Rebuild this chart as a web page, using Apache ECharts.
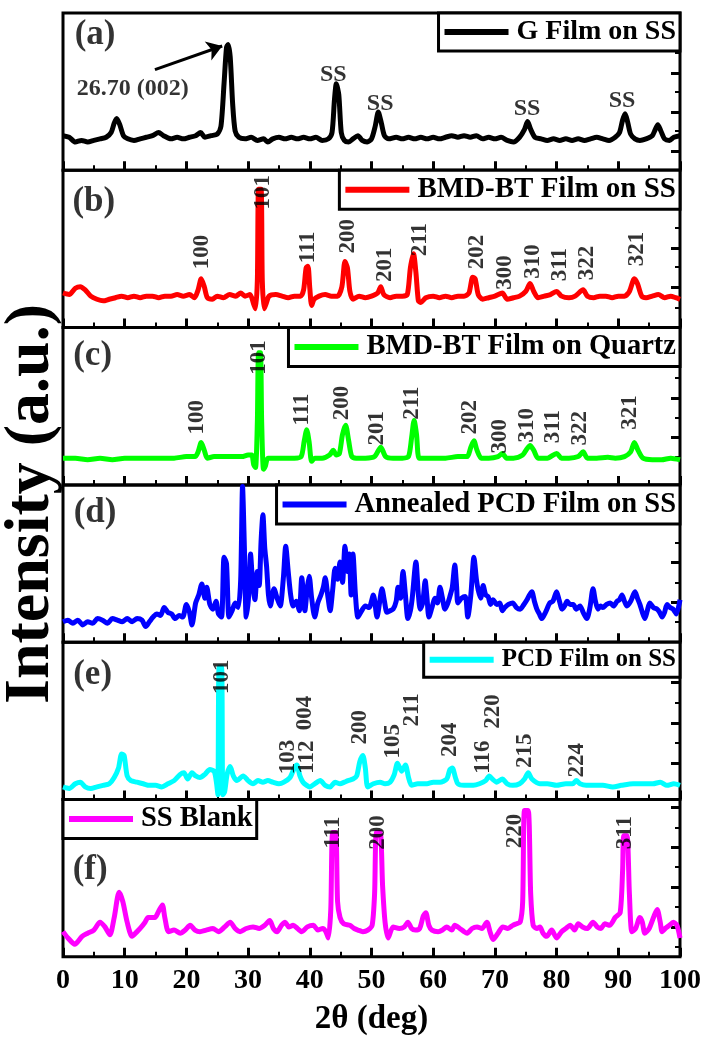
<!DOCTYPE html>
<html lang="en">
<head>
    <meta charset="UTF-8">
    <title>XRD patterns</title>
    <script src="https://cdn.jsdelivr.net/npm/echarts@6/dist/echarts.min.js"></script>
</head>
<style>
    body { margin: 0; background: #fff; }
    #container { width: 708px; height: 1038px; }
</style>
<body>
<div id="container"></div>
<script>
    // 2theta / intensity pairs (intensity in % of panel height)
    var gFilm = [[0,22],[1,21],[2,18],[3,19],[4,18],[5,19],[6,20],[7,21],[7.8,24],[8.3,30],[8.7,33],[9.2,29],[9.8,22],[10.5,20],[11.5,19],[12.5,20],[13.5,21],[14.5,22],[15.5,24],[16.3,22],[17.5,20],[18.5,21],[19.5,20],[20.5,21],[21.5,22],[22.3,24],[23,21],[24,22],[25,23],[25.6,28],[26.1,55],[26.5,78],[26.75,80],[27.1,72],[27.5,42],[27.9,25],[28.5,21],[29.5,20],[30.5,21],[31.5,19],[32.5,20],[33.2,18],[34,20],[35,21],[36,20],[37,21],[38,20],[39,21],[40,20],[41,21],[42,19],[43,20],[43.6,24],[44.0,45],[44.3,55],[44.7,48],[45.1,24],[45.6,19],[46.3,18],[47,20],[47.8,22],[48.5,19],[49.3,18],[50,20],[50.6,28],[51.1,37],[51.6,30],[52.1,22],[52.8,20],[54,21],[55,20],[56,21],[57,20],[58,21],[59,20],[60,21],[61,20],[62,21],[63,22],[64,21],[65,22],[66,21],[67,22],[68,20],[69,21],[70,20],[71,21],[72,19],[73,18],[74,21],[74.8,26],[75.3,31],[75.8,26],[76.5,21],[77.5,20],[78.5,19],[79.5,20],[80.5,19],[81.5,20],[82.5,19],[83.5,20],[84.5,19],[85.5,20],[86.5,21],[87.5,20],[88.5,19],[89.5,21],[90.2,24],[90.7,32],[91.1,36],[91.5,31],[92,23],[92.7,20],[93.5,19],[94.5,20],[95.5,22],[96,26],[96.4,29],[96.9,25],[97.5,20],[98.3,19],[99,21],[100,22]];

    var bmdSS = [[0,22],[1,21],[2,25],[2.8,26],[3.6,24],[4.5,20],[5.5,18],[6.5,17],[7.5,18],[8.5,19],[9.5,20],[10.5,19],[11.5,20],[12.5,19],[13.5,20],[14.5,20],[15.5,19],[16.5,20],[17.5,20],[18.5,21],[19.5,20],[20.5,21],[21.3,19],[21.9,24],[22.4,31],[22.9,26],[23.4,19],[24.2,18],[25,20],[26,19],[27,21],[28,20],[28.8,22],[29.5,20],[30.3,21],[30.9,15],[31.2,12],[31.5,30],[31.7,88],[32.1,88],[32.3,30],[32.6,12],[32.9,15],[33.4,20],[34.5,21],[35.5,20],[36.5,19],[37.5,20],[38.5,20],[39.0,24],[39.4,38],[39.7,39],[40.0,25],[40.3,14],[40.7,18],[41.5,20],[42.5,21],[43.5,20],[44.5,20],[45.2,26],[45.7,42],[46.1,38],[46.5,23],[47,18],[48,20],[49,19],[50,20],[51,22],[51.5,26],[52,21],[53,19],[54,20],[55,20],[55.8,21],[56.3,38],[56.8,47],[57.2,35],[57.6,17],[58,16],[58.8,19],[60,20],[61,19],[62,20],[63,19],[64,20],[65,20],[65.8,22],[66.4,32],[66.8,31],[67.3,21],[68,18],[69,19],[70,20],[71.2,22],[72,18],[73,19],[74,20],[75,23],[75.7,28],[76.3,23],[77,19],[78,20],[79,21],[80,23],[80.8,20],[82,19],[83,20],[84.3,24],[85,20],[86,19],[87,20],[88,20],[89,19],[90,20],[91,20],[91.8,23],[92.6,31],[93.1,28],[93.8,20],[94.5,19],[95.5,20],[96.5,21],[97.5,19],[98.5,20],[99.3,19],[100,18]];

    var bmdQuartz = [[0,17],[2,17],[4,16],[6,17],[8,16],[10,17],[12,17],[14,17],[16,17],[18,17],[20,18],[21.4,18],[21.9,21],[22.4,27],[22.9,22],[23.4,17],[24.5,18],[26,18],[27.5,18],[29,18],[30,19],[30.6,19],[30.9,13],[31.2,11],[31.5,40],[31.7,84],[32.0,84],[32.2,40],[32.5,10],[32.8,12],[33.2,17],[34.5,17],[36,17],[37.5,17],[38.6,18],[39.1,28],[39.5,35],[39.9,27],[40.3,15],[40.8,17],[42,17],[43.2,19],[43.8,22],[44.3,19],[44.8,20],[45.3,32],[45.8,38],[46.3,28],[46.8,18],[47.5,17],[49,17],[50.5,18],[51.5,24],[52.3,18],[53.5,17],[55,17],[56,18],[56.5,30],[56.9,41],[57.3,32],[57.7,17],[58.5,17],[60,17],[62,17],[64,18],[65.5,18],[66.1,24],[66.6,28],[67.1,22],[67.8,17],[69,17],[70.5,18],[71.2,20],[71.9,17],[73,17],[74.5,19],[75.2,23],[75.7,25],[76.3,22],[77,17],[78.5,17],[80,20],[80.8,17],[82,17],[83.5,18],[84.3,21],[85,17],[86.5,17],[88.3,17.5],[89.5,17],[91,18],[92,21],[92.6,27],[93.2,22],[94,17],[95.5,16],[97,16],[98.5,17],[100,16]];

    var pcdAnnealed = [[0,13],[0.8,14],[1.6,12],[2.4,14],[3.2,11],[4,13],[4.8,12],[5.6,15],[6.4,14],[7.2,12],[8,15],[8.8,14],[9.6,13],[10.4,15],[11.2,13],[12,15],[12.8,14],[13.4,10],[14,13],[14.6,16],[15.2,18],[15.8,17],[16.4,22],[17,19],[17.6,18],[18.2,15],[18.8,17],[19.4,16],[20,24],[20.5,19],[20.9,11],[21.5,25],[22,30],[22.5,37],[23,28],[23.3,35],[23.8,24],[24.3,21],[24.8,26],[25.2,18],[25.7,16],[26.1,54],[26.5,50],[26.9,16],[27.4,20],[27.9,25],[28.4,22],[28.8,40],[29.1,99],[29.4,60],[29.7,16],[30.1,30],[30.4,56],[30.7,40],[31.1,27],[31.5,45],[31.8,36],[32.1,64],[32.4,81],[32.7,60],[33,48],[33.3,30],[33.6,23],[34.2,34],[34.7,28],[35.2,23],[35.7,40],[36.1,61],[36.5,45],[36.9,30],[37.3,23],[37.8,26],[38.3,20],[38.7,41],[39.2,20],[39.6,35],[39.9,42],[40.3,28],[40.8,16],[41.3,25],[41.8,30],[42.2,35],[42.5,41],[42.9,30],[43.3,20],[43.7,33],[44.1,47],[44.5,40],[44.9,51],[45.3,38],[45.7,61],[46.1,45],[46.4,56],[46.7,30],[47.0,56],[47.4,30],[47.8,16],[48.4,20],[49,23],[49.6,22],[50.3,30],[50.9,16],[51.3,25],[51.7,34],[52.1,26],[52.5,19],[53,20],[53.5,21],[54,26],[54.3,35],[54.7,28],[55.1,45],[55.5,30],[55.9,15],[56.3,20],[56.6,28],[57.2,51],[57.6,30],[57.9,21],[58.3,25],[58.7,39],[59,28],[59.3,16],[59.8,22],[60.3,28],[60.7,25],[61.1,35],[61.5,28],[61.9,21],[62.3,24],[62.7,29],[63.1,35],[63.5,49],[63.8,35],[64,25],[64.6,28],[65.2,29],[65.6,16],[66.1,30],[66.6,54],[67,40],[67.3,33],[67.7,28],[68.1,36],[68.5,30],[68.9,29],[69.3,24],[69.7,27],[70.3,24],[70.8,25],[71.2,20],[71.6,22],[72.2,24],[72.9,25],[73.5,22],[74.1,21],[74.7,24],[75.2,27],[75.6,30],[76,32],[76.4,26],[76.8,21],[77.2,18],[77.6,15],[78.2,19],[78.9,25],[79.4,26],[80,32],[80.4,27],[80.9,21],[81.3,23],[81.7,26],[82.2,24],[82.7,24],[83.2,21],[83.8,23],[84.3,19],[84.9,15],[85.4,22],[85.9,34],[86.3,26],[86.7,21],[87.1,23],[87.5,22],[88.1,24],[88.7,25],[89.2,23],[89.8,26],[90.2,27],[90.6,30],[91,26],[91.4,23],[92,26],[92.7,32],[93.1,28],[93.5,24],[93.9,19],[94.3,15],[94.7,20],[95.1,25],[95.7,22],[96.3,21],[96.7,19],[97.1,16],[97.5,19],[97.9,24],[98.4,22],[98.9,21],[99.4,18],[100,27]];

    var pcdSS = [[0,8],[1,7],[2,10],[2.8,11],[3.6,8],[4.5,7],[5.5,8],[6.5,9],[7.5,10],[8.3,14],[9,20],[9.5,29],[9.9,28],[10.4,15],[11,12],[12,11],[13,10],[14,9],[15,9],[16,8],[17,10],[18,12],[19,16],[19.6,17],[20.2,13],[20.9,17],[21.5,15],[22.2,14],[23,16],[23.8,19],[24.5,18],[24.9,10],[25.1,3],[25.3,84],[25.7,84],[25.9,3],[26.2,5],[26.6,16],[27.1,21],[27.6,15],[28.2,12],[29.2,15],[30,12],[30.8,10],[31.6,12],[32.4,11],[33.2,12],[34,11],[35,10],[35.8,11],[36.8,14],[37.5,20],[37.9,22],[38.4,15],[38.9,11],[39.5,9],[40,8],[40.8,10],[41.7,12],[42.5,9],[43.3,8],[44.1,11],[44.9,10],[45.6,11],[46.2,12],[47,13],[47.6,15],[48.1,24],[48.6,28],[49.0,20],[49.4,8],[50.3,10],[51.4,11],[52.2,10],[53,11],[53.7,16],[54.2,23],[54.6,20],[54.9,18],[55.5,22],[56,14],[56.5,9],[57.5,10],[59,10],[60,11],[61.1,11],[62.2,13],[62.7,19],[63.1,20],[63.6,14],[64,10],[65,9],[66.5,9],[67.5,10],[68.5,12],[69.1,15],[69.6,13],[70.3,11],[71.2,13],[72,10],[72.9,9],[74,10],[74.8,13],[75.4,17],[76,13],[77.3,10],[78.5,10],[80,9],[81.5,10],[82.6,10],[83.2,12],[83.8,10],[84.8,9],[85.9,9],[87.5,9],[89.1,8],[90.5,9],[92.4,10],[94,10],[95.6,10],[96.8,11],[97.9,9],[99,10],[100,9]];

    var ssBlank = [[0,16],[0.8,12],[1.9,8],[3.1,13],[4,15],[5,17],[6,22],[6.8,19],[7.6,14],[8.3,25],[9.1,41],[9.7,35],[10.4,22],[11.2,13],[12,16],[12.5,18],[13.3,22],[13.8,25],[14.9,25],[15.5,29],[16.1,33],[16.5,25],[17.1,16],[18,17],[19,15],[19.8,17],[20.6,20],[21.4,17],[22.2,16],[23.2,17],[24.3,18],[25.2,16],[26.2,19],[27.1,22],[27.9,18],[28.7,16],[29.7,18],[30.8,19],[31.8,18],[32.7,20],[33.5,23],[34.1,18],[34.7,16],[35.4,20],[36,22],[36.6,19],[37.3,20],[38,18],[38.7,16],[39.6,19],[40.6,20],[41.3,17],[42.1,18],[42.6,16],[43,12],[43.4,30],[43.7,79],[44.2,79],[44.5,35],[44.9,25],[45.5,21],[46.5,20],[47.2,18],[47.8,17],[48.6,16],[49.4,17],[50.1,20],[50.5,40],[50.8,79],[51.4,79],[51.8,45],[52.2,22],[52.7,12],[53.5,19],[54.5,18],[55.3,19],[55.9,22],[56.5,18],[57.1,17],[57.8,18],[58.4,26],[58.8,28],[59.3,20],[59.8,17],[60.8,16],[61.5,17],[62.2,19],[63,17],[63.5,20],[64.3,18],[65,16],[65.5,15],[66.3,18],[67.1,19],[67.9,18],[68.7,22],[69.2,16],[69.7,11],[70.5,15],[71.3,19],[72.1,18],[72.9,20],[73.5,21],[74.1,22],[74.5,35],[74.8,93],[75.4,93],[75.8,40],[76.2,20],[76.8,18],[77.3,19],[77.8,15],[78.4,13],[79.2,17],[80,12],[80.8,16],[81.5,18],[82.2,20],[82.9,17],[83.5,21],[84.2,19],[85,18],[85.9,22],[86.6,19],[87.2,18],[87.8,21],[88.6,20],[89.5,25],[90.3,28],[90.7,55],[90.9,77],[91.4,77],[91.8,40],[92.2,16],[92.8,18],[93.5,25],[93.9,22],[94.3,15],[95,18],[95.8,26],[96.3,30],[96.8,22],[97.1,16],[97.6,18],[98.3,20],[98.9,22],[99.5,20],[100,12]];

    // peak annotations: [2theta, height, text]
    var gLabels = [[43.8,61,'SS'],[51.4,42,'SS'],[75.2,39,'SS'],[90.6,44,'SS'],[11.3,52,'26.70 (002)']];
    var bmdSSLabels = [[22.5,48,'100'],[32.4,86,'101'],[39.7,51,'111'],[46.2,58,'200'],[52.2,40,'201'],[57.9,56,'211'],[67.1,48,'202'],[71.6,35,'300'],[76.2,42,'310'],[80.5,40,'311'],[84.9,41,'322'],[93,50,'321']];
    var bmdQuartzLabels = [[21.7,43,'100'],[31.7,81,'101'],[38.7,48,'111'],[45.2,52,'200'],[50.9,36,'201'],[56.6,52,'211'],[66,43,'202'],[70.8,31,'300'],[75.2,38,'310'],[79.5,37,'311'],[83.8,36,'322'],[91.9,46,'321']];
    var pcdSSLabels = [[25.8,78,'101'],[36.5,27,'103'],[39.2,55,'004'],[39.6,27,'112'],[48.1,46,'200'],[53.5,37,'105'],[56.5,57,'211'],[62.7,38,'204'],[68.1,27,'116'],[69.7,56,'220'],[74.9,31,'215'],[83.3,25,'224']];
    var ssBlankLabels = [[43.8,79,'111'],[51.1,79,'200'],[73.3,80,'220'],[91.1,79,'311']];

    var seriesNames = ['G Film on SS', 'BMD-BT Film on SS', 'BMD-BT Film on Quartz', 'Annealed PCD Film on SS', 'PCD Film on SS', 'SS Blank'];
    var seriesColors = ['#000000', '#ff0000', '#00ff00', '#0000ff', '#00ffff', '#ff00ff'];
    var legendFontSizes = [28, 29, 28.5, 28.5, 25, 28.5];
    var panelLetters = ['(a)', '(b)', '(c)', '(d)', '(e)', '(f)'];
    var letterPos = [[5.2,86],[5,80],[4.8,82],[5.2,82],[4.8,79],[4.4,55]];

    // right-hand y ticks (major / minor) per panel
    var yMajor = [[12,37,62,87],[25.6,50.6,76],[30.6,55.4,80.3],[25.3,50.6,75.9],[23,48.7,74.4],[19,44.3,69.6,95]];
    var yMinor = [[25,50,75],[12.8,38.5,63.5,89],[18,43,68,93],[12.7,38,63.3,88.6],[10,36,61.5,87],[6.3,31.6,57,82.3]];

    var arrowFrom = [14.9, 64], arrowTo = [25.8, 79];

    var allData = [gFilm, bmdSS, bmdQuartz, pcdAnnealed, pcdSS, ssBlank];
    var allLabels = [gLabels, bmdSSLabels, bmdQuartzLabels, [], pcdSSLabels, ssBlankLabels];

    var FONT = "'Liberation Serif', 'Times New Roman', serif";
    var TOP0 = 13, H = 157.3, LEFT = 63, RIGHT = 28, W = 708 - 63 - 28;

    var chart = echarts.init(document.getElementById('container'));

    var grids = [], xAxes = [], yAxes = [], series = [], legends = [];

    for (var i = 0; i < 6; i++)
    {
        var gridTop = TOP0 + i * H;
        grids.push({left: LEFT, right: RIGHT, top: gridTop, height: H, show: true, borderColor: '#000', borderWidth: 3});

        xAxes.push({
            gridIndex: i, type: 'value', min: 0, max: 100, interval: 10,
            axisLine: {show: false, onZero: false},
            axisTick: {inside: true, length: 9, lineStyle: {color: '#000', width: 3}},
            minorTick: {show: true, splitNumber: 2, length: 5, lineStyle: {color: '#000', width: 2}},
            splitLine: {show: false},
            axisLabel: {show: i === 5, color: '#000', fontFamily: FONT, fontWeight: 'bold', fontSize: 28, margin: 10},
            name: i === 5 ? '2θ (deg)' : '',
            nameLocation: 'middle', nameGap: 46,
            nameTextStyle: {color: '#000', fontFamily: FONT, fontWeight: 'bold', fontSize: 33}
        });

        // major ticks on the right edge
        yAxes.push({
            gridIndex: i, type: 'value', min: 0, max: 100, position: 'right',
            axisLine: {show: false, onZero: false}, axisLabel: {show: false}, splitLine: {show: false},
            axisTick: {inside: true, length: 9, customValues: yMajor[i], lineStyle: {color: '#000', width: 3}}
        });
        // minor ticks: a left axis shifted onto the right edge, ticks pointing inward
        yAxes.push({
            gridIndex: i, type: 'value', min: 0, max: 100, position: 'left', offset: -W,
            axisLine: {show: false, onZero: false}, axisLabel: {show: false}, splitLine: {show: false},
            axisTick: {inside: false, length: 5, customValues: yMinor[i], lineStyle: {color: '#000', width: 2}}
        });

        series.push({
            name: seriesNames[i], type: 'line', xAxisIndex: i, yAxisIndex: 2 * i,
            data: allData[i], showSymbol: false, smooth: 0.25,
            lineStyle: {color: seriesColors[i], width: 5},
            itemStyle: {color: seriesColors[i]},
            silent: true, z: 2
        });

        // peak labels
        series.push({
            type: 'scatter', xAxisIndex: i, yAxisIndex: 2 * i, silent: true, z: 5,
            symbolSize: 1, itemStyle: {color: 'rgba(0,0,0,0)'},
            data: allLabels[i].map(function (l)
            {
                return {value: [l[0], l[1]], name: l[2]};
            }),
            label: {show: true, position: 'inside', formatter: '{b}', rotate: i === 0 ? 0 : 90, color: '#000',
                fontFamily: FONT, fontWeight: 'bold', fontSize: i === 0 ? 24 : 23}
        });

        // panel letter
        series.push({
            type: 'scatter', xAxisIndex: i, yAxisIndex: 2 * i, silent: true, z: 5,
            symbolSize: 1, itemStyle: {color: 'rgba(0,0,0,0)'},
            data: [{value: letterPos[i], name: panelLetters[i]}],
            label: {show: true, position: 'inside', formatter: '{b}', color: '#000',
                fontFamily: FONT, fontWeight: 'bold', fontSize: 35}
        });

        var lg = {
            data: [seriesNames[i]], top: gridTop, selectedMode: false,
            icon: 'rect', itemWidth: 64, itemHeight: 6,
            padding: [5, 4, 5, 6],
            backgroundColor: '#fff', borderColor: '#000', borderWidth: 3,
            textStyle: {color: '#000', fontFamily: FONT, fontWeight: 'bold', fontSize: legendFontSizes[i], padding: [0, 0, 0, 3]}
        };
        if (i === 5) lg.left = LEFT; else lg.right = RIGHT;
        legends.push(lg);
    }

    // arrow pointing at the graphite (002) peak
    series.push({
        type: 'lines', coordinateSystem: 'cartesian2d', xAxisIndex: 0, yAxisIndex: 0, silent: true, z: 6,
        symbol: ['none', 'arrow'], symbolSize: 15,
        lineStyle: {color: '#000', width: 3, opacity: 1},
        data: [{coords: [arrowFrom, arrowTo]}]
    });

    var option = {
        animation: false,
        backgroundColor: '#fff',
        grid: grids,
        xAxis: xAxes,
        yAxis: yAxes,
        legend: legends,
        series: series,
        graphic: [{
            type: 'text', x: 31, y: 504, rotation: Math.PI / 2,
            style: {text: 'Intensity (a.u.)', fill: '#000', fontFamily: FONT, fontWeight: 'bold', fontSize: 64,
                align: 'center', verticalAlign: 'middle'}
        }]
    };

    chart.setOption(option);
</script>
</body>
</html>
